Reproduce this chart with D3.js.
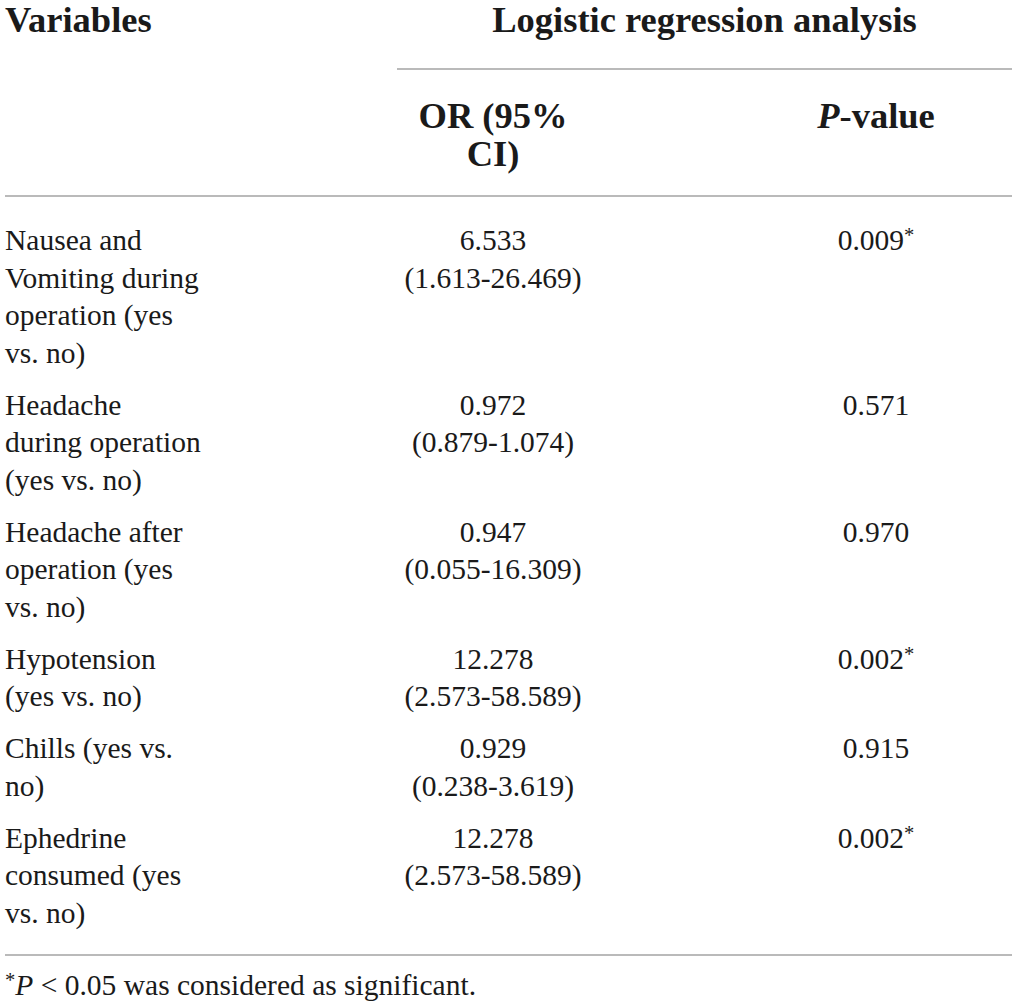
<!DOCTYPE html>
<html>
<head>
<meta charset="utf-8">
<script src="https://cdn.jsdelivr.net/npm/d3@7/dist/d3.min.js"></script>
<style>
  html, body { margin: 0; padding: 0; background: #fff; }
  svg { display: block; }
  text { font-family: "Liberation Serif", "Times New Roman", serif; fill: #1a1a1a; }
</style>
</head>
<body>
<svg id="chart" width="1017" height="1008"></svg>
<script>
// ---- data ----
const columnHeaders = ["Variables", "OR (95% CI)", "P-value"];
const groupHeader = "Logistic regression analysis";
const variableLines = [
  ["Nausea and", "Vomiting during", "operation (yes", "vs. no)"],
  ["Headache", "during operation", "(yes vs. no)"],
  ["Headache after", "operation (yes", "vs. no)"],
  ["Hypotension", "(yes vs. no)"],
  ["Chills (yes vs.", "no)"],
  ["Ephedrine", "consumed (yes", "vs. no)"]
];
const oddsRatios = ["6.533", "0.972", "0.947", "12.278", "0.929", "12.278"];
const confIntervals = ["(1.613-26.469)", "(0.879-1.074)", "(0.055-16.309)", "(2.573-58.589)", "(0.238-3.619)", "(2.573-58.589)"];
const pValues = ["0.009*", "0.571", "0.970", "0.002*", "0.915", "0.002*"];
const footnote = "P < 0.05 was considered as significant.";

// ---- layout ----
const svg = d3.select("#chart");
const lineH = 37.5;
const rowGap = 52;
const firstBaseline = 250;
const lineColor = "#a3a3a3";

const x = d3.scaleOrdinal().domain(["var", "or", "p"]).range([5, 493, 876]);

// compute baselines of each row's first line
const rowStarts = [];
let cur = firstBaseline;
variableLines.forEach((lines) => {
  rowStarts.push(cur);
  cur += (lines.length - 1) * lineH + rowGap;
});
const y = d3.scaleOrdinal().domain(d3.range(variableLines.length)).range(rowStarts);

// ---- rules ----
const rules = [
  { x1: 397, x2: 1012, y: 69 },
  { x1: 5, x2: 1012, y: 196 },
  { x1: 5, x2: 1012, y: 955 }
];
svg.selectAll("line.rule").data(rules).join("line")
  .attr("class", "rule")
  .attr("x1", d => d.x1).attr("x2", d => d.x2)
  .attr("y1", d => d.y).attr("y2", d => d.y)
  .attr("stroke", lineColor).attr("stroke-width", 1.6);

// ---- headers ----
const hdrSize = 36.5;
svg.append("text").attr("x", x("var")).attr("y", 32)
  .attr("font-size", hdrSize).attr("font-weight", "bold").text(columnHeaders[0]);
svg.append("text").attr("x", 704.5).attr("y", 32)
  .attr("font-size", hdrSize).attr("font-weight", "bold").attr("text-anchor", "middle").text(groupHeader);

const orHdr = columnHeaders[1].split(" ");
const orLines = [orHdr[0] + " " + orHdr[1], orHdr[2]];
svg.selectAll("text.orh").data(orLines).join("text")
  .attr("class", "orh")
  .attr("x", x("or")).attr("y", (d, i) => 128 + i * lineH)
  .attr("font-size", hdrSize).attr("font-weight", "bold").attr("text-anchor", "middle")
  .text(d => d);

const ph = svg.append("text").attr("x", x("p")).attr("y", 128)
  .attr("font-size", hdrSize).attr("font-weight", "bold").attr("text-anchor", "middle");
ph.append("tspan").attr("font-style", "italic").text(columnHeaders[2].charAt(0));
ph.append("tspan").text(columnHeaders[2].slice(1));

// ---- body ----
const bodySize = 29.5;
const rows = svg.selectAll("g.row").data(variableLines).join("g").attr("class", "row");

rows.each(function(lines, i) {
  const g = d3.select(this);
  g.selectAll("text.var").data(lines).join("text")
    .attr("class", "var")
    .attr("x", x("var")).attr("y", (d, j) => y(i) + j * lineH)
    .attr("font-size", bodySize).text(d => d);

  g.selectAll("text.or").data([oddsRatios[i], confIntervals[i]]).join("text")
    .attr("class", "or")
    .attr("x", x("or")).attr("y", (d, j) => y(i) + j * lineH)
    .attr("font-size", bodySize).attr("text-anchor", "middle").text(d => d);

  const pv = pValues[i];
  const t = g.append("text").attr("x", x("p")).attr("y", y(i))
    .attr("font-size", bodySize).attr("text-anchor", "middle");
  t.append("tspan").text(pv.replace("*", ""));
  if (pv.includes("*")) {
    t.append("tspan").attr("font-size", bodySize * 0.7).attr("dy", -8).text("*");
  }
});

// ---- footnote ----
const fn = svg.append("text").attr("x", 5).attr("y", 995).attr("font-size", bodySize);
fn.append("tspan").attr("font-size", bodySize * 0.7).attr("dy", -8).text("*");
fn.append("tspan").attr("dy", 8).attr("font-style", "italic").text(footnote.charAt(0));
fn.append("tspan").text(footnote.slice(1));
</script>
</body>
</html>
